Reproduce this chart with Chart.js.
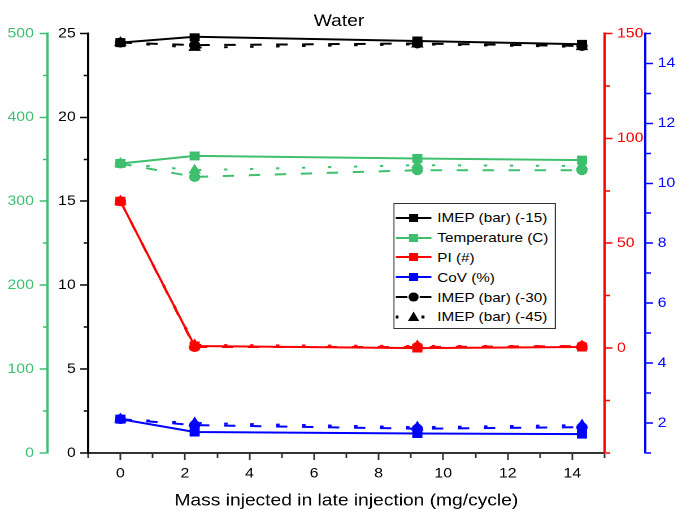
<!DOCTYPE html>
<html>
<head>
<meta charset="utf-8">
<title>Water</title>
<script src="https://cdn.jsdelivr.net/npm/chart.js@4.4.1/dist/chart.umd.min.js"></script>
<style>
  html, body { margin: 0; padding: 0; background: #fff; overflow: hidden; }
  /* the figure is laid out 600px wide and widened to 678px */
  #wrap {
    position: relative; width: 600px; height: 514px;
    transform: scaleX(1.13); transform-origin: 0 0;
  }
  #legend {
    position: absolute; left: 348px; top: 203px; width: 144px; height: 126px;
    box-sizing: border-box; border: 1px solid #333; background: #fff;
    padding-top: 4px;
    font-family: 'Liberation Sans', Arial, sans-serif; font-size: 13.5px; color: #000;
  }
  .row { display: flex; align-items: center; height: 19.8px; white-space: nowrap; }
  .row svg { margin-left: 1px; margin-right: 5px; flex: none; }
</style>
</head>
<body>
<div id="wrap">
  <canvas id="chart"></canvas>
  <div id="legend"></div>
</div>
<script>
// mass injected in the late injection (mg/cycle)
const xMass = [0, 2.3, 9.2, 14.3];

// IMEP (bar) for each injection timing
const imep15 = [24.45, 24.8, 24.55, 24.35];
const imep30 = [24.45, 24.3, 24.4, 24.25];
const imep45 = [24.45, 24.15, 24.35, 24.2];

// temperature (C)
const temp15 = [345, 354, 351, 349];
const temp30 = [345, 329, 337, 337];
const temp45 = [345, 337, 343, 342];

// PI (#)
const pi15 = [70, 1, 0, 0.5];
const pi30 = [70, 0.5, 0.5, 1];
const pi45 = [70, 1.5, 1, 1];

// CoV (%)
const cov15 = [2.13, 1.7, 1.65, 1.63];
const cov30 = [2.13, 1.93, 1.81, 1.86];
const cov45 = [2.13, 2.0, 1.86, 1.93];

// labelled ticks, the rest are minor
const xTicks = [0, 2, 4, 6, 8, 10, 12, 14];
const imepTicks = [0, 5, 10, 15, 20, 25];
const tempTicks = [0, 100, 200, 300, 400, 500];
const piTicks = [0, 50, 100, 150];
const covTicks = [2, 4, 6, 8, 10, 12, 14];

const FONT = "'Liberation Sans', Arial, sans-serif";
const GREEN = '#3dbf6e';
const RED = '#ff0000';
const BLUE = '#0000ff';
const BLACK = '#000000';

Chart.defaults.font.family = FONT;

const timing = {
    '-15': { dash: [], point: 'rect', radius: 5.6 },
    '-30': { dash: [10, 13], point: 'circle', radius: 4.5 },
    '-45': { dash: [3, 20], point: 'triangle', radius: 5.5 }
};

function series(label, values, color, axis, t) {
    const s = timing[t];
    return {
        label,
        data: xMass.map((x, i) => ({ x, y: values[i] })),
        yAxisID: axis,
        borderColor: color,
        backgroundColor: color,
        borderWidth: 2,
        borderDash: s.dash,
        pointStyle: s.point,
        pointRadius: s.radius,
        pointBorderWidth: 1,
        pointBorderColor: color,
        pointBackgroundColor: color,
        tension: 0
    };
}

const datasets = [
    series('IMEP (bar) (-15)', imep15, BLACK, 'yImep', '-15'),
    series('IMEP (bar) (-30)', imep30, BLACK, 'yImep', '-30'),
    series('IMEP (bar) (-45)', imep45, BLACK, 'yImep', '-45'),
    series('Temperature (C) (-15)', temp15, GREEN, 'yTemp', '-15'),
    series('Temperature (C) (-30)', temp30, GREEN, 'yTemp', '-30'),
    series('Temperature (C) (-45)', temp45, GREEN, 'yTemp', '-45'),
    series('PI (#) (-15)', pi15, RED, 'yPi', '-15'),
    series('PI (#) (-30)', pi30, RED, 'yPi', '-30'),
    series('PI (#) (-45)', pi45, RED, 'yPi', '-45'),
    series('CoV (%) (-15)', cov15, BLUE, 'yCov', '-15'),
    series('CoV (%) (-30)', cov30, BLUE, 'yCov', '-30'),
    series('CoV (%) (-45)', cov45, BLUE, 'yCov', '-45')
];

const isMajor = (list, v) => list.some(m => Math.abs(m - v) < 1e-6);

// short minor ticks: only part of the tick line is drawn, next to the axis
function tickDash(list, minorDash) {
    return ctx => (ctx.tick && !isMajor(list, ctx.tick.value)) ? minorDash : [];
}

function yAxis(o) {
    return {
        type: 'linear',
        position: o.side,
        weight: o.weight,
        min: o.min,
        max: o.max,
        ticks: {
            stepSize: o.step,
            autoSkip: false,
            color: o.color,
            padding: o.padding,
            font: { size: 14 },
            callback: v => isMajor(o.labels, v) ? String(v) : ''
        },
        grid: {
            drawOnChartArea: false,
            drawTicks: true,
            tickLength: 7,
            tickWidth: 1.5,
            tickColor: o.color,
            tickBorderDash: tickDash(o.labels, o.side === 'left' ? [0, 3, 4, 100] : [4, 100])
        },
        border: { display: true, color: o.color, width: 2 },
        afterFit: s => { s.width = o.width; }
    };
}

new Chart(document.getElementById('chart'), {
    type: 'line',
    data: { datasets },
    options: {
        responsive: true,
        maintainAspectRatio: false,
        devicePixelRatio: 2,
        animation: false,
        events: [],
        layout: { padding: 0 },
        plugins: {
            legend: { display: false },
            tooltip: { enabled: false },
            title: {
                display: true,
                text: 'Water',
                color: BLACK,
                font: { size: 17, weight: 'normal' },
                padding: { top: 11, bottom: 2 }
            }
        },
        scales: {
            x: {
                type: 'linear',
                position: 'bottom',
                min: -1,
                max: 15,
                ticks: {
                    stepSize: 1,
                    autoSkip: false,
                    maxRotation: 0,
                    color: BLACK,
                    padding: 5,
                    font: { size: 14 },
                    callback: v => isMajor(xTicks, v) ? String(v) : ''
                },
                grid: {
                    drawOnChartArea: false,
                    tickLength: 7,
                    tickWidth: 1.5,
                    tickColor: '#333',
                    tickBorderDash: tickDash(xTicks, [4, 100])
                },
                border: { display: true, color: '#333', width: 2 },
                title: {
                    display: true,
                    text: 'Mass injected in late injection (mg/cycle)',
                    color: BLACK,
                    font: { size: 17 },
                    padding: { top: 0, bottom: 3 }
                },
                afterFit: s => { s.height = 61; }
            },
            yImep: yAxis({ side: 'left', weight: 0, min: 0, max: 25, step: 2.5, labels: imepTicks,
                           color: BLACK, padding: 4, width: 36 }),
            yTemp: yAxis({ side: 'left', weight: 1, min: 0, max: 500, step: 50, labels: tempTicks,
                           color: GREEN, padding: 5, width: 42 }),
            yPi: yAxis({ side: 'right', weight: 0, min: -50, max: 150, step: 25, labels: piTicks,
                         color: RED, padding: 4, width: 36 }),
            yCov: yAxis({ side: 'right', weight: 1, min: 1, max: 15, step: 1, labels: covTicks,
                          color: BLUE, padding: 4, width: 29 })
        }
    }
});

// legend inside the plot
const legendItems = [
    { label: 'IMEP (bar) (-15)', color: BLACK, t: '-15' },
    { label: 'Temperature (C)', color: GREEN, t: '-15' },
    { label: 'PI (#)', color: RED, t: '-15' },
    { label: 'CoV (%)', color: BLUE, t: '-15' },
    { label: 'IMEP (bar) (-30)', color: BLACK, t: '-30' },
    { label: 'IMEP (bar) (-45)', color: BLACK, t: '-45' }
];

function legendIcon(item) {
    const c = item.color;
    let line, marker;
    if (item.t === '-15') {
        line = `<line x1="0" y1="7" x2="32" y2="7" stroke="${c}" stroke-width="2"/>`;
        marker = `<rect x="12" y="3" width="8" height="8" fill="${c}"/>`;
    } else if (item.t === '-30') {
        line = `<line x1="0" y1="7" x2="32" y2="7" stroke="${c}" stroke-width="2" stroke-dasharray="10.5 11"/>`;
        marker = `<circle cx="16" cy="7" r="4.5" fill="${c}"/>`;
    } else {
        line = `<line x1="0" y1="7" x2="32" y2="7" stroke="${c}" stroke-width="3" stroke-dasharray="2.6 20.4"/>`;
        marker = `<polygon points="16,1.5 21,11 11,11" fill="${c}"/>`;
    }
    return `<svg width="32" height="14" viewBox="0 0 32 14">${line}${marker}</svg>`;
}

document.getElementById('legend').innerHTML = legendItems.map(item =>
    `<div class="row">${legendIcon(item)}<span>${item.label}</span></div>`
).join('');
</script>
</body>
</html>
